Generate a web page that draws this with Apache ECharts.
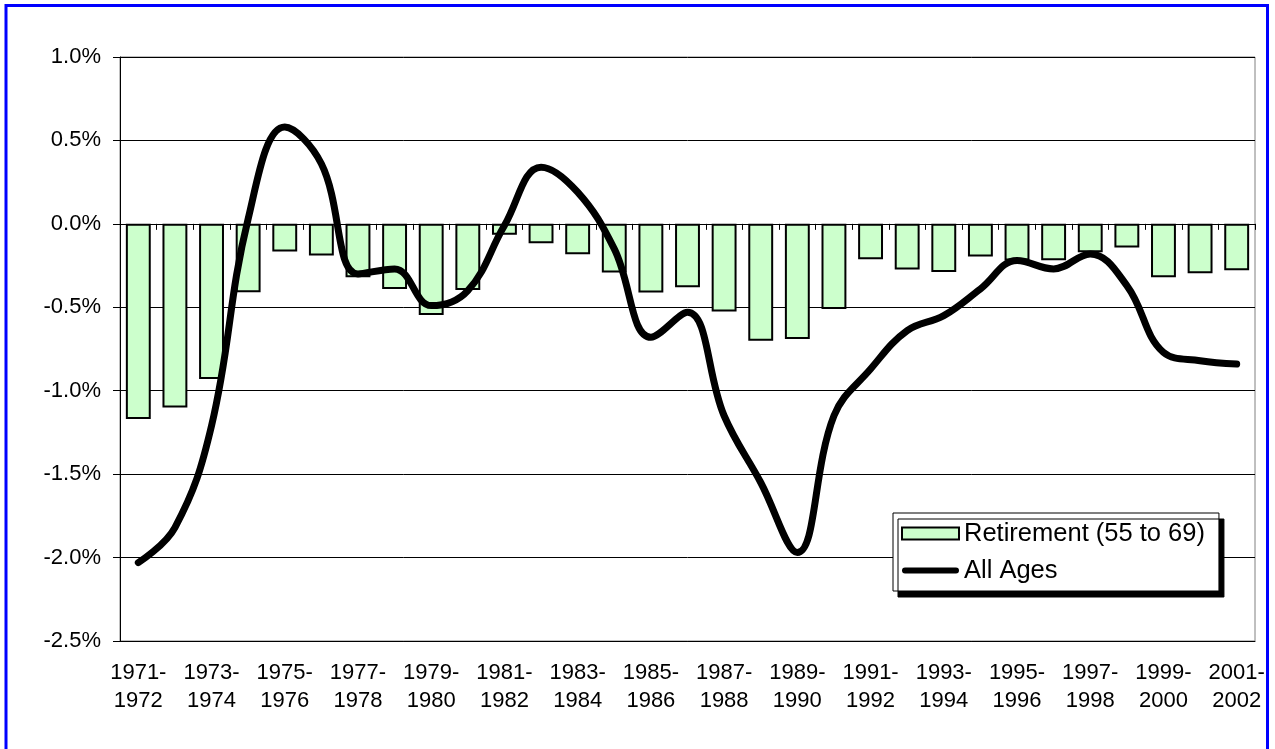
<!DOCTYPE html>
<html>
<head>
<meta charset="utf-8">
<script src="https://cdn.jsdelivr.net/npm/echarts@6/dist/echarts.min.js"></script>
<style>
html,body{margin:0;padding:0;background:#fff;}
#chart{width:1275px;height:749px;}
</style>
</head>
<body>
<div id="chart"></div>
<script>
// Data (percent)
const categories = [
  "1971-\n1972","1972-\n1973","1973-\n1974","1974-\n1975","1975-\n1976","1976-\n1977",
  "1977-\n1978","1978-\n1979","1979-\n1980","1980-\n1981","1981-\n1982","1982-\n1983",
  "1983-\n1984","1984-\n1985","1985-\n1986","1986-\n1987","1987-\n1988","1988-\n1989",
  "1989-\n1990","1990-\n1991","1991-\n1992","1992-\n1993","1993-\n1994","1994-\n1995",
  "1995-\n1996","1996-\n1997","1997-\n1998","1998-\n1999","1999-\n2000","2000-\n2001",
  "2001-\n2002"
];
const retirement = [
  -1.17, -1.10, -0.93, -0.41, -0.166, -0.19, -0.32, -0.39, -0.546, -0.396, -0.066,
  -0.116, -0.182, -0.292, -0.412, -0.38, -0.526, -0.70, -0.69, -0.51, -0.212,
  -0.274, -0.288, -0.196, -0.22, -0.218, -0.17, -0.142, -0.32, -0.296, -0.278
];
const allAges = [
  -2.03, -1.82, -1.21, 0.03, 0.58, 0.36, -0.30, -0.27, -0.49, -0.40, -0.01,
  0.34, 0.19, -0.15, -0.68, -0.53, -1.15, -1.55, -1.97, -1.15, -0.87,
  -0.64, -0.55, -0.39, -0.22, -0.27, -0.18, -0.37, -0.77, -0.82, -0.84
];
const seriesNames = ["Retirement (55 to 69)", "All Ages"];

const FONT = "'Liberation Sans', Arial, sans-serif";
// thick rounded line icon with invisible padding to keep 57x12 box
const lineIcon = 'path://M0,0L0.01,0L0.01,0.01Z M3,3L54,3A3,3,0,0,1,54,9L3,9A3,3,0,0,1,3,3Z M0,12L0.01,12L0.01,11.99Z';

const chart = echarts.init(document.getElementById('chart'), null, {renderer: 'canvas'});
chart.setOption({
  backgroundColor: '#ffffff',
  animation: false,
  textStyle: {fontFamily: FONT},
  grid: {
    left: 120, right: 20, top: 57, bottom: 108,
    show: true, borderColor: '#808080', borderWidth: 1
  },
  legend: {
    orient: 'vertical',
    left: 893, top: 513,
    padding: [6, 14, 6, 8],
    itemGap: 8,
    itemWidth: 57, itemHeight: 12,
    backgroundColor: '#ffffff',
    borderColor: '#000000', borderWidth: 1,
    shadowColor: '#000000', shadowBlur: 0, shadowOffsetX: 5, shadowOffsetY: 6,
    textStyle: {fontFamily: FONT, fontSize: 25.5, color: '#000', lineHeight: 29},
    data: [
      {name: seriesNames[0], icon: 'rect'},
      {name: seriesNames[1], icon: lineIcon, itemStyle: {color: '#000', borderWidth: 0}, lineStyle: {width: 0}}
    ]
  },
  xAxis: [
    {
      type: 'category', data: categories, position: 'bottom',
      axisLine: {onZero: false, show: true, lineStyle: {color: '#000', width: 1}},
      axisTick: {show: false},
      axisLabel: {
        interval: 1, margin: 18, fontSize: 22, lineHeight: 28,
        color: '#000', fontFamily: FONT
      },
      splitLine: {show: false}
    },
    {
      type: 'category', data: categories, position: 'bottom',
      axisLine: {onZero: true, show: true, lineStyle: {color: '#000', width: 1}},
      axisTick: {show: true, interval: 0, length: 6, alignWithLabel: false, lineStyle: {color: '#000', width: 1}},
      axisLabel: {show: false},
      splitLine: {show: false}
    }
  ],
  yAxis: {
    type: 'value', min: -2.5, max: 1.0, interval: 0.5,
    axisLine: {show: true, lineStyle: {color: '#000', width: 1}},
    axisTick: {show: true, length: 7, inside: false, lineStyle: {color: '#000'}},
    axisLabel: {
      margin: 19, fontSize: 22, color: '#000', fontFamily: FONT,
      formatter: v => v.toFixed(1) + '%'
    },
    splitLine: {show: true, lineStyle: {color: '#000', width: 1}}
  },
  series: [
    {
      name: seriesNames[0], type: 'bar', xAxisIndex: 0,
      data: retirement,
      barCategoryGap: '32%',
      itemStyle: {color: '#CCFFCC', borderColor: '#000', borderWidth: 2},
      z: 2
    },
    {
      name: seriesNames[1], type: 'line', xAxisIndex: 0,
      data: allAges,
      smooth: 0.4,
      symbol: 'none', showSymbol: false,
      lineStyle: {color: '#000', width: 7, cap: 'round', join: 'round'},
      itemStyle: {color: '#000'},
      z: 3
    }
  ],
  graphic: [
    {
      type: 'rect', silent: true, z: 100,
      shape: {x: 6, y: 5.5, width: 1261.5, height: 800},
      style: {fill: 'none', stroke: '#0000FF', lineWidth: 3}
    }
  ]
});
</script>
</body>
</html>
